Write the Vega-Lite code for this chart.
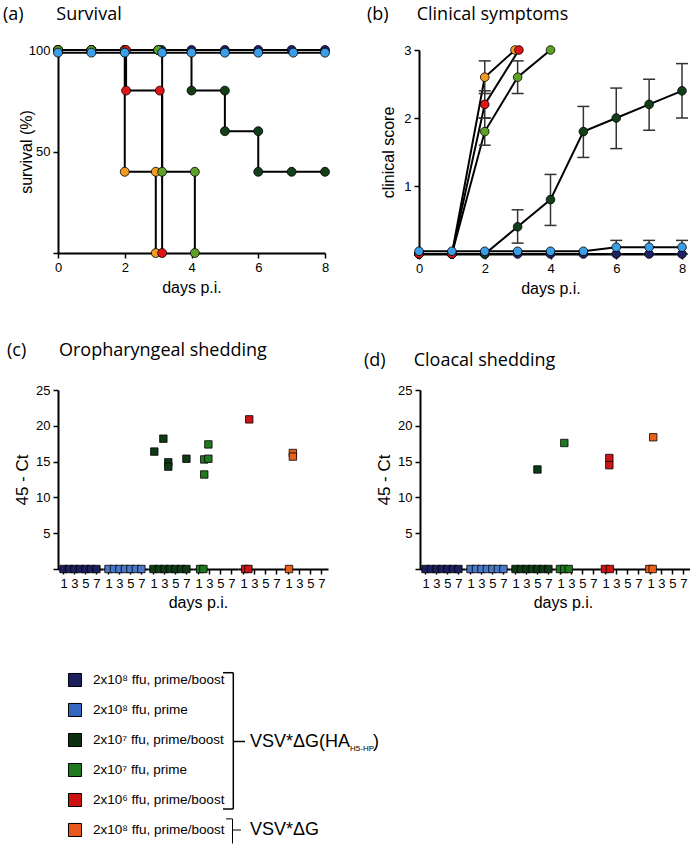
{
  "$schema": "https://vega.github.io/schema/vega-lite/v6.json",
  "padding": {"left": 3, "top": 5, "right": 0, "bottom": 2},
  "autosize": {"type": "pad"},
  "background": "white",
  "config": {
    "view": {"stroke": null},
    "font": "Liberation Sans",
    "axis": {"domainColor": "#000", "domainWidth": 2, "tickColor": "#000", "tickWidth": 1.5, "tickSize": 5, "labelColor": "#000", "labelFontSize": 13, "labelFont": "Liberation Sans", "titleFont": "Liberation Sans", "titleFontSize": 16, "titleFontWeight": "normal", "titleColor": "#000", "grid": false, "labelPadding": 3, "labelFlush": false, "labelOverlap": false, "labelBound": false},
    "title": {"font": "Open Sans", "fontSize": 18, "fontWeight": "normal", "color": "#000", "anchor": "start", "frame": "group"}
  },
  "datasets": {
    "surv": [
      {"group": "g1", "i": 0, "day": 0, "surv": 100}, {"group": "g1", "i": 1, "day": 1, "surv": 100}, {"group": "g1", "i": 2, "day": 2, "surv": 100}, {"group": "g1", "i": 3, "day": 3.1, "surv": 100}, {"group": "g1", "i": 4, "day": 4, "surv": 100}, {"group": "g1", "i": 5, "day": 5, "surv": 100}, {"group": "g1", "i": 6, "day": 6, "surv": 100}, {"group": "g1", "i": 7, "day": 7, "surv": 100}, {"group": "g1", "i": 8, "day": 8, "surv": 100},
      {"group": "g3", "i": 0, "day": 0, "surv": 100}, {"group": "g3", "i": 1, "day": 1, "surv": 100}, {"group": "g3", "i": 2, "day": 2, "surv": 100}, {"group": "g3", "i": 3, "day": 3, "surv": 100}, {"group": "g3", "i": 4, "day": 4, "surv": 80}, {"group": "g3", "i": 5, "day": 5, "surv": 80}, {"group": "g3", "i": 6, "day": 5, "surv": 60}, {"group": "g3", "i": 7, "day": 6, "surv": 60}, {"group": "g3", "i": 8, "day": 6, "surv": 40}, {"group": "g3", "i": 9, "day": 7, "surv": 40}, {"group": "g3", "i": 10, "day": 8, "surv": 40},
      {"group": "g6", "i": 0, "day": 0, "surv": 100}, {"group": "g6", "i": 1, "day": 1, "surv": 100}, {"group": "g6", "i": 2, "day": 2, "surv": 100}, {"group": "g6", "i": 3, "day": 2, "surv": 40}, {"group": "g6", "i": 4, "day": 2.93, "surv": 40}, {"group": "g6", "i": 5, "day": 2.93, "surv": 0},
      {"group": "g5", "i": 0, "day": 0, "surv": 100}, {"group": "g5", "i": 1, "day": 1, "surv": 100}, {"group": "g5", "i": 2, "day": 2.04, "surv": 100}, {"group": "g5", "i": 3, "day": 2.04, "surv": 80}, {"group": "g5", "i": 4, "day": 3.05, "surv": 80}, {"group": "g5", "i": 5, "day": 3.12, "surv": 0},
      {"group": "g4", "i": 0, "day": 0, "surv": 100}, {"group": "g4", "i": 1, "day": 1, "surv": 100}, {"group": "g4", "i": 2, "day": 3, "surv": 100}, {"group": "g4", "i": 3, "day": 3.12, "surv": 40}, {"group": "g4", "i": 4, "day": 4.1, "surv": 40}, {"group": "g4", "i": 5, "day": 4.1, "surv": 0},
      {"group": "g2", "i": 0, "day": 0, "surv": 98.7}, {"group": "g2", "i": 1, "day": 1, "surv": 98.7}, {"group": "g2", "i": 2, "day": 2, "surv": 98.7}, {"group": "g2", "i": 3, "day": 3.12, "surv": 98.7}, {"group": "g2", "i": 4, "day": 4, "surv": 98.7}, {"group": "g2", "i": 5, "day": 5, "surv": 98.7}, {"group": "g2", "i": 6, "day": 6, "surv": 98.7}, {"group": "g2", "i": 7, "day": 7.05, "surv": 98.7}, {"group": "g2", "i": 8, "day": 8, "surv": 98.7}
    ],
    "clin": [
      {"group": "g1", "day": 0, "score": 0}, {"group": "g1", "day": 1, "score": 0}, {"group": "g1", "day": 2, "score": 0}, {"group": "g1", "day": 3, "score": 0}, {"group": "g1", "day": 4, "score": 0}, {"group": "g1", "day": 5, "score": 0}, {"group": "g1", "day": 6, "score": 0}, {"group": "g1", "day": 7, "score": 0}, {"group": "g1", "day": 8, "score": 0},
      {"group": "g3", "day": 0, "score": 0}, {"group": "g3", "day": 1, "score": 0}, {"group": "g3", "day": 2, "score": 0}, {"group": "g3", "day": 3, "score": 0.4, "lo": 0.16, "hi": 0.65}, {"group": "g3", "day": 4, "score": 0.8, "lo": 0.42, "hi": 1.17}, {"group": "g3", "day": 5, "score": 1.8, "lo": 1.42, "hi": 2.17}, {"group": "g3", "day": 6, "score": 2.0, "lo": 1.55, "hi": 2.44}, {"group": "g3", "day": 7, "score": 2.2, "lo": 1.82, "hi": 2.57}, {"group": "g3", "day": 8, "score": 2.4, "lo": 2.0, "hi": 2.8},
      {"group": "g4", "day": 0, "score": 0}, {"group": "g4", "day": 1, "score": 0}, {"group": "g4", "day": 2, "score": 1.8, "lo": 1.6, "hi": 2.0}, {"group": "g4", "day": 3, "score": 2.6, "lo": 2.36, "hi": 2.84}, {"group": "g4", "day": 4, "score": 3.0},
      {"group": "g6", "day": 0, "score": 0}, {"group": "g6", "day": 1, "score": 0}, {"group": "g6", "day": 2, "score": 2.6, "lo": 2.36, "hi": 2.84}, {"group": "g6", "day": 2.92, "score": 3.0},
      {"group": "g5", "day": 0, "score": 0}, {"group": "g5", "day": 1, "score": 0}, {"group": "g5", "day": 2, "score": 2.2, "lo": 2.0, "hi": 2.4}, {"group": "g5", "day": 3.04, "score": 3.0},
      {"group": "g2", "day": 0, "score": 0.04}, {"group": "g2", "day": 1, "score": 0.04}, {"group": "g2", "day": 2, "score": 0.04}, {"group": "g2", "day": 3, "score": 0.04}, {"group": "g2", "day": 4, "score": 0.04}, {"group": "g2", "day": 5, "score": 0.04}, {"group": "g2", "day": 6, "score": 0.1, "lo": 0, "hi": 0.2}, {"group": "g2", "day": 7, "score": 0.1, "lo": 0, "hi": 0.2}, {"group": "g2", "day": 8, "score": 0.1, "lo": 0, "hi": 0.2}
    ],
    "shed": [
      {"panel": "c", "group": "g1", "day": 1, "ct": 0}, {"panel": "c", "group": "g1", "day": 2, "ct": 0}, {"panel": "c", "group": "g1", "day": 3, "ct": 0}, {"panel": "c", "group": "g1", "day": 4, "ct": 0}, {"panel": "c", "group": "g1", "day": 5, "ct": 0}, {"panel": "c", "group": "g1", "day": 6, "ct": 0}, {"panel": "c", "group": "g1", "day": 7, "ct": 0},
      {"panel": "c", "group": "g2", "day": 1, "ct": 0}, {"panel": "c", "group": "g2", "day": 2, "ct": 0}, {"panel": "c", "group": "g2", "day": 3, "ct": 0}, {"panel": "c", "group": "g2", "day": 4, "ct": 0}, {"panel": "c", "group": "g2", "day": 5, "ct": 0}, {"panel": "c", "group": "g2", "day": 6, "ct": 0}, {"panel": "c", "group": "g2", "day": 7, "ct": 0},
      {"panel": "c", "group": "g3", "day": 1, "ct": 0}, {"panel": "c", "group": "g3", "day": 2, "ct": 0}, {"panel": "c", "group": "g3", "day": 3, "ct": 0}, {"panel": "c", "group": "g3", "day": 4, "ct": 0}, {"panel": "c", "group": "g3", "day": 5, "ct": 0}, {"panel": "c", "group": "g3", "day": 6, "ct": 0}, {"panel": "c", "group": "g3", "day": 7, "ct": 0},
      {"panel": "c", "group": "g3", "day": 1.15, "ct": 16.4}, {"panel": "c", "group": "g3", "day": 2.8, "ct": 18.2}, {"panel": "c", "group": "g3", "day": 3.7, "ct": 14.9}, {"panel": "c", "group": "g3", "day": 3.7, "ct": 14.3}, {"panel": "c", "group": "g3", "day": 7.0, "ct": 15.4},
      {"panel": "c", "group": "g4", "day": 1.3, "ct": 0}, {"panel": "c", "group": "g4", "day": 1.9, "ct": 0}, {"panel": "c", "group": "g4", "day": 2.05, "ct": 15.3}, {"panel": "c", "group": "g4", "day": 2.05, "ct": 13.2}, {"panel": "c", "group": "g4", "day": 2.8, "ct": 17.4}, {"panel": "c", "group": "g4", "day": 2.8, "ct": 15.4},
      {"panel": "c", "group": "g5", "day": 1.3, "ct": 0}, {"panel": "c", "group": "g5", "day": 1.9, "ct": 0}, {"panel": "c", "group": "g5", "day": 2.05, "ct": 20.9},
      {"panel": "c", "group": "g6", "day": 1.1, "ct": 0}, {"panel": "c", "group": "g6", "day": 1.8, "ct": 16.2}, {"panel": "c", "group": "g6", "day": 1.8, "ct": 15.7},
      {"panel": "d", "group": "g1", "day": 1, "ct": 0}, {"panel": "d", "group": "g1", "day": 2, "ct": 0}, {"panel": "d", "group": "g1", "day": 3, "ct": 0}, {"panel": "d", "group": "g1", "day": 4, "ct": 0}, {"panel": "d", "group": "g1", "day": 5, "ct": 0}, {"panel": "d", "group": "g1", "day": 6, "ct": 0}, {"panel": "d", "group": "g1", "day": 7, "ct": 0},
      {"panel": "d", "group": "g2", "day": 1, "ct": 0}, {"panel": "d", "group": "g2", "day": 2, "ct": 0}, {"panel": "d", "group": "g2", "day": 3, "ct": 0}, {"panel": "d", "group": "g2", "day": 4, "ct": 0}, {"panel": "d", "group": "g2", "day": 5, "ct": 0}, {"panel": "d", "group": "g2", "day": 6, "ct": 0}, {"panel": "d", "group": "g2", "day": 7, "ct": 0},
      {"panel": "d", "group": "g3", "day": 1, "ct": 0}, {"panel": "d", "group": "g3", "day": 2, "ct": 0}, {"panel": "d", "group": "g3", "day": 3, "ct": 0}, {"panel": "d", "group": "g3", "day": 4, "ct": 0}, {"panel": "d", "group": "g3", "day": 5, "ct": 0}, {"panel": "d", "group": "g3", "day": 6, "ct": 0}, {"panel": "d", "group": "g3", "day": 7, "ct": 0},
      {"panel": "d", "group": "g3", "day": 5.0, "ct": 13.9},
      {"panel": "d", "group": "g4", "day": 0.9, "ct": 0}, {"panel": "d", "group": "g4", "day": 1.7, "ct": 0}, {"panel": "d", "group": "g4", "day": 2.5, "ct": 0}, {"panel": "d", "group": "g4", "day": 1.7, "ct": 17.6},
      {"panel": "d", "group": "g5", "day": 0.9, "ct": 0}, {"panel": "d", "group": "g5", "day": 1.8, "ct": 0}, {"panel": "d", "group": "g5", "day": 1.7, "ct": 15.5}, {"panel": "d", "group": "g5", "day": 1.7, "ct": 14.5},
      {"panel": "d", "group": "g6", "day": 0.8, "ct": 0}, {"panel": "d", "group": "g6", "day": 1.4, "ct": 0}, {"panel": "d", "group": "g6", "day": 1.5, "ct": 18.4}
    ],
    "legend": [
      {"row": 0, "group": "g1", "label": "2x10⁸ ffu, prime/boost"},
      {"row": 1, "group": "g2", "label": "2x10⁸ ffu, prime"},
      {"row": 2, "group": "g3", "label": "2x10⁷ ffu, prime/boost"},
      {"row": 3, "group": "g4", "label": "2x10⁷ ffu, prime"},
      {"row": 4, "group": "g5", "label": "2x10⁶ ffu, prime/boost"},
      {"row": 5, "group": "g6", "label": "2x10⁸ ffu, prime/boost"}
    ]
  },
  "spacing": 55,
  "resolve": {"scale": {"color": "independent"}},
  "vconcat": [
    {
      "spacing": 46,
      "resolve": {"scale": {"color": "independent"}},
      "vconcat": [
        {
          "bounds": "flush",
          "spacing": 94,
          "hconcat": [
            {
              "width": 267, "height": 203,
              "title": {"text": "(a)\u00a0\u00a0\u00a0\u00a0\u00a0\u00a0\u00a0Survival", "dx": -55, "offset": 20},
              "data": {"name": "surv"},
              "encoding": {
                "x": {"field": "day", "type": "quantitative", "scale": {"domain": [0, 8], "nice": false}, "axis": {"values": [0, 2, 4, 6, 8], "title": "days p.i.", "titlePadding": 5}},
                "y": {"field": "surv", "type": "quantitative", "scale": {"domain": [0, 100], "nice": false}, "axis": {"values": [0, 50, 100], "labelExpr": "datum.value == 0 ? '' : datum.label", "title": "survival (%)", "titleX": -24}}
              },
              "layer": [
                {"mark": {"type": "line", "interpolate": "step-after", "color": "black", "strokeWidth": 2}, "encoding": {"detail": {"field": "group"}, "order": {"field": "i"}}},
                {"mark": {"type": "circle", "size": 80, "stroke": "black", "strokeWidth": 0.8, "opacity": 1}, "encoding": {"color": {"field": "group", "type": "nominal", "scale": {"domain": ["g1", "g2", "g3", "g4", "g5", "g6"], "range": ["#1c2366", "#3a9fe6", "#123f18", "#5e9f25", "#e01515", "#f29a1f"]}, "legend": null}}}
              ]
            },
            {
              "width": 263, "height": 204,
              "title": {"text": "(b)\u00a0\u00a0\u00a0\u00a0\u00a0\u00a0Clinical symptoms", "dx": -52, "offset": 20},
              "data": {"name": "clin"},
              "encoding": {
                "x": {"field": "day", "type": "quantitative", "scale": {"domain": [0, 8], "nice": false}, "axis": {"values": [0, 2, 4, 6, 8], "title": "days p.i.", "titlePadding": 5}},
                "y": {"field": "score", "type": "quantitative", "scale": {"domain": [0, 3], "nice": false}, "axis": {"values": [0, 1, 2, 3], "labelExpr": "datum.value == 0 ? '' : datum.label", "title": "clinical score", "titleX": -23}}
              },
              "layer": [
                {"mark": {"type": "line", "color": "black", "strokeWidth": 2}, "encoding": {"detail": {"field": "group"}}},
                {"mark": {"type": "rule", "color": "#333", "strokeWidth": 1.5}, "encoding": {"y": {"field": "lo", "type": "quantitative"}, "y2": {"field": "hi"}}},
                {"mark": {"type": "tick", "orient": "horizontal", "size": 12, "thickness": 1.5, "color": "#333", "opacity": 1}, "encoding": {"y": {"field": "hi", "type": "quantitative"}}},
                {"mark": {"type": "tick", "orient": "horizontal", "size": 12, "thickness": 1.5, "color": "#333", "opacity": 1}, "encoding": {"y": {"field": "lo", "type": "quantitative"}}},
                {"mark": {"type": "circle", "size": 75, "stroke": "black", "strokeWidth": 0.8, "opacity": 1}, "encoding": {"color": {"field": "group", "type": "nominal", "scale": {"domain": ["g1", "g2", "g3", "g4", "g5", "g6"], "range": ["#1c2366", "#3a9fe6", "#123f18", "#5e9f25", "#e01515", "#f29a1f"]}, "legend": null}}}
              ]
            }
          ]
        },
        {
          "bounds": "flush",
          "spacing": 0,
          "data": {"name": "shed"},
          "hconcat": [
            {"width": 45, "height": 179, "title": {"text": "(c)\u00a0\u00a0\u00a0\u00a0\u00a0\u00a0\u00a0Oropharyngeal shedding", "dx": -51, "offset": 24}, "transform": [{"filter": "datum.panel == 'c' && datum.group == 'g1'"}], "mark": {"type": "square", "size": 55, "stroke": "black", "strokeWidth": 0.8, "opacity": 1},
             "encoding": {"x": {"field": "day", "type": "quantitative", "scale": {"domain": [0, 8.2], "nice": false, "zero": false}, "axis": {"values": [1, 3, 5, 7], "title": null}},
              "y": {"field": "ct", "type": "quantitative", "scale": {"domain": [0, 25], "nice": false}, "axis": {"values": [0, 5, 10, 15, 20, 25], "labelExpr": "datum.value == 0 ? '' : datum.label", "title": "45 - Ct", "titleFontSize": 17, "titlePadding": 4}},
              "color": {"field": "group", "type": "nominal", "scale": {"domain": ["g1", "g2", "g3", "g4", "g5", "g6"], "range": ["#1b1f5e", "#4a78c8", "#0e3b14", "#1f7a1f", "#cc1515", "#e8601c"]}, "legend": null}}},
            {"width": 45, "height": 179, "transform": [{"filter": "datum.panel == 'c' && datum.group == 'g2'"}], "mark": {"type": "square", "size": 55, "stroke": "black", "strokeWidth": 0.8, "opacity": 1},
             "encoding": {"x": {"field": "day", "type": "quantitative", "scale": {"domain": [0, 8.2], "nice": false, "zero": false}, "axis": {"values": [1, 3, 5, 7], "title": null}},
              "y": {"field": "ct", "type": "quantitative", "scale": {"domain": [0, 25], "nice": false}, "axis": null},
              "color": {"field": "group", "type": "nominal", "scale": {"domain": ["g1", "g2", "g3", "g4", "g5", "g6"], "range": ["#1b1f5e", "#4a78c8", "#0e3b14", "#1f7a1f", "#cc1515", "#e8601c"]}, "legend": null}}},
            {"width": 45, "height": 179, "transform": [{"filter": "datum.panel == 'c' && datum.group == 'g3'"}], "mark": {"type": "square", "size": 55, "stroke": "black", "strokeWidth": 0.8, "opacity": 1},
             "encoding": {"x": {"field": "day", "type": "quantitative", "scale": {"domain": [0, 8.2], "nice": false, "zero": false}, "axis": {"values": [1, 3, 5, 7], "title": null}},
              "y": {"field": "ct", "type": "quantitative", "scale": {"domain": [0, 25], "nice": false}, "axis": null},
              "color": {"field": "group", "type": "nominal", "scale": {"domain": ["g1", "g2", "g3", "g4", "g5", "g6"], "range": ["#1b1f5e", "#4a78c8", "#0e3b14", "#1f7a1f", "#cc1515", "#e8601c"]}, "legend": null}}},
            {"width": 45, "height": 179, "transform": [{"filter": "datum.panel == 'c' && datum.group == 'g4'"}], "mark": {"type": "square", "size": 55, "stroke": "black", "strokeWidth": 0.8, "opacity": 1},
             "encoding": {"x": {"field": "day", "type": "quantitative", "scale": {"domain": [0, 8.2], "nice": false, "zero": false}, "axis": {"values": [1, 3, 5, 7], "title": "days p.i.", "titleX": 5, "titlePadding": 4}},
              "y": {"field": "ct", "type": "quantitative", "scale": {"domain": [0, 25], "nice": false}, "axis": null},
              "color": {"field": "group", "type": "nominal", "scale": {"domain": ["g1", "g2", "g3", "g4", "g5", "g6"], "range": ["#1b1f5e", "#4a78c8", "#0e3b14", "#1f7a1f", "#cc1515", "#e8601c"]}, "legend": null}}},
            {"width": 45, "height": 179, "transform": [{"filter": "datum.panel == 'c' && datum.group == 'g5'"}], "mark": {"type": "square", "size": 55, "stroke": "black", "strokeWidth": 0.8, "opacity": 1},
             "encoding": {"x": {"field": "day", "type": "quantitative", "scale": {"domain": [0, 8.2], "nice": false, "zero": false}, "axis": {"values": [1, 3, 5, 7], "title": null}},
              "y": {"field": "ct", "type": "quantitative", "scale": {"domain": [0, 25], "nice": false}, "axis": null},
              "color": {"field": "group", "type": "nominal", "scale": {"domain": ["g1", "g2", "g3", "g4", "g5", "g6"], "range": ["#1b1f5e", "#4a78c8", "#0e3b14", "#1f7a1f", "#cc1515", "#e8601c"]}, "legend": null}}},
            {"width": 45, "height": 179, "transform": [{"filter": "datum.panel == 'c' && datum.group == 'g6'"}], "mark": {"type": "square", "size": 55, "stroke": "black", "strokeWidth": 0.8, "opacity": 1},
             "encoding": {"x": {"field": "day", "type": "quantitative", "scale": {"domain": [0, 8.2], "nice": false, "zero": false}, "axis": {"values": [1, 3, 5, 7], "title": null}},
              "y": {"field": "ct", "type": "quantitative", "scale": {"domain": [0, 25], "nice": false}, "axis": null},
              "color": {"field": "group", "type": "nominal", "scale": {"domain": ["g1", "g2", "g3", "g4", "g5", "g6"], "range": ["#1b1f5e", "#4a78c8", "#0e3b14", "#1f7a1f", "#cc1515", "#e8601c"]}, "legend": null}}},
            {"width": 92, "height": 179, "transform": [{"filter": "false"}], "mark": {"type": "point", "opacity": 0},
             "encoding": {"x": {"field": "day", "type": "quantitative", "axis": null}, "y": {"field": "ct", "type": "quantitative", "axis": null}}},
            {"width": 45, "height": 179, "title": {"text": "(d)\u00a0\u00a0\u00a0\u00a0\u00a0\u00a0Cloacal shedding", "dx": -56, "offset": 14}, "transform": [{"filter": "datum.panel == 'd' && datum.group == 'g1'"}], "mark": {"type": "square", "size": 55, "stroke": "black", "strokeWidth": 0.8, "opacity": 1},
             "encoding": {"x": {"field": "day", "type": "quantitative", "scale": {"domain": [0, 8.2], "nice": false, "zero": false}, "axis": {"values": [1, 3, 5, 7], "title": null}},
              "y": {"field": "ct", "type": "quantitative", "scale": {"domain": [0, 25], "nice": false}, "axis": {"values": [0, 5, 10, 15, 20, 25], "labelExpr": "datum.value == 0 ? '' : datum.label", "title": "45 - Ct", "titleFontSize": 17, "titlePadding": 4}},
              "color": {"field": "group", "type": "nominal", "scale": {"domain": ["g1", "g2", "g3", "g4", "g5", "g6"], "range": ["#1b1f5e", "#4a78c8", "#0e3b14", "#1f7a1f", "#cc1515", "#e8601c"]}, "legend": null}}},
            {"width": 45, "height": 179, "transform": [{"filter": "datum.panel == 'd' && datum.group == 'g2'"}], "mark": {"type": "square", "size": 55, "stroke": "black", "strokeWidth": 0.8, "opacity": 1},
             "encoding": {"x": {"field": "day", "type": "quantitative", "scale": {"domain": [0, 8.2], "nice": false, "zero": false}, "axis": {"values": [1, 3, 5, 7], "title": null}},
              "y": {"field": "ct", "type": "quantitative", "scale": {"domain": [0, 25], "nice": false}, "axis": null},
              "color": {"field": "group", "type": "nominal", "scale": {"domain": ["g1", "g2", "g3", "g4", "g5", "g6"], "range": ["#1b1f5e", "#4a78c8", "#0e3b14", "#1f7a1f", "#cc1515", "#e8601c"]}, "legend": null}}},
            {"width": 45, "height": 179, "transform": [{"filter": "datum.panel == 'd' && datum.group == 'g3'"}], "mark": {"type": "square", "size": 55, "stroke": "black", "strokeWidth": 0.8, "opacity": 1},
             "encoding": {"x": {"field": "day", "type": "quantitative", "scale": {"domain": [0, 8.2], "nice": false, "zero": false}, "axis": {"values": [1, 3, 5, 7], "title": null}},
              "y": {"field": "ct", "type": "quantitative", "scale": {"domain": [0, 25], "nice": false}, "axis": null},
              "color": {"field": "group", "type": "nominal", "scale": {"domain": ["g1", "g2", "g3", "g4", "g5", "g6"], "range": ["#1b1f5e", "#4a78c8", "#0e3b14", "#1f7a1f", "#cc1515", "#e8601c"]}, "legend": null}}},
            {"width": 45, "height": 179, "transform": [{"filter": "datum.panel == 'd' && datum.group == 'g4'"}], "mark": {"type": "square", "size": 55, "stroke": "black", "strokeWidth": 0.8, "opacity": 1},
             "encoding": {"x": {"field": "day", "type": "quantitative", "scale": {"domain": [0, 8.2], "nice": false, "zero": false}, "axis": {"values": [1, 3, 5, 7], "title": "days p.i.", "titleX": 8, "titlePadding": 4}},
              "y": {"field": "ct", "type": "quantitative", "scale": {"domain": [0, 25], "nice": false}, "axis": null},
              "color": {"field": "group", "type": "nominal", "scale": {"domain": ["g1", "g2", "g3", "g4", "g5", "g6"], "range": ["#1b1f5e", "#4a78c8", "#0e3b14", "#1f7a1f", "#cc1515", "#e8601c"]}, "legend": null}}},
            {"width": 45, "height": 179, "transform": [{"filter": "datum.panel == 'd' && datum.group == 'g5'"}], "mark": {"type": "square", "size": 55, "stroke": "black", "strokeWidth": 0.8, "opacity": 1},
             "encoding": {"x": {"field": "day", "type": "quantitative", "scale": {"domain": [0, 8.2], "nice": false, "zero": false}, "axis": {"values": [1, 3, 5, 7], "title": null}},
              "y": {"field": "ct", "type": "quantitative", "scale": {"domain": [0, 25], "nice": false}, "axis": null},
              "color": {"field": "group", "type": "nominal", "scale": {"domain": ["g1", "g2", "g3", "g4", "g5", "g6"], "range": ["#1b1f5e", "#4a78c8", "#0e3b14", "#1f7a1f", "#cc1515", "#e8601c"]}, "legend": null}}},
            {"width": 45, "height": 179, "transform": [{"filter": "datum.panel == 'd' && datum.group == 'g6'"}], "mark": {"type": "square", "size": 55, "stroke": "black", "strokeWidth": 0.8, "opacity": 1},
             "encoding": {"x": {"field": "day", "type": "quantitative", "scale": {"domain": [0, 8.2], "nice": false, "zero": false}, "axis": {"values": [1, 3, 5, 7], "title": null}},
              "y": {"field": "ct", "type": "quantitative", "scale": {"domain": [0, 25], "nice": false}, "axis": null},
              "color": {"field": "group", "type": "nominal", "scale": {"domain": ["g1", "g2", "g3", "g4", "g5", "g6"], "range": ["#1b1f5e", "#4a78c8", "#0e3b14", "#1f7a1f", "#cc1515", "#e8601c"]}, "legend": null}}}
          ]
        }
      ]
    },
    {
      "width": 340, "height": 180,
      "layer": [
        {"data": {"name": "legend"}, "mark": {"type": "square", "size": 170, "stroke": "black", "strokeWidth": 1, "opacity": 1},
         "encoding": {"x": {"datum": 0, "type": "quantitative", "scale": {"domain": [-1.7, 32.3], "nice": false, "zero": false}, "axis": null},
          "y": {"field": "row", "type": "quantitative", "scale": {"domain": [-0.5, 5.5], "reverse": true, "nice": false, "zero": false}, "axis": null},
          "color": {"field": "group", "type": "nominal", "scale": {"domain": ["g1", "g2", "g3", "g4", "g5", "g6"], "range": ["#1b1f5e", "#3567c0", "#0b2e10", "#1f7a1f", "#cc1111", "#e8581c"]}, "legend": null}}},
        {"data": {"name": "legend"}, "mark": {"type": "text", "align": "left", "baseline": "middle", "fontSize": 13.5, "font": "Liberation Sans", "color": "black"},
         "encoding": {"x": {"datum": 1.8, "type": "quantitative"}, "y": {"field": "row", "type": "quantitative"}, "text": {"field": "label"}}},
        {"data": {"values": [{"k": 1}]}, "mark": {"type": "rule", "color": "black", "strokeWidth": 1.5}, "encoding": {"x": {"datum": 14.8, "type": "quantitative"}, "x2": {"datum": 15.83}, "y": {"datum": -0.243, "type": "quantitative"}}},
        {"data": {"values": [{"k": 1}]}, "mark": {"type": "rule", "color": "black", "strokeWidth": 1.5}, "encoding": {"x": {"datum": 15.83, "type": "quantitative"}, "y": {"datum": -0.243, "type": "quantitative"}, "y2": {"datum": 4.3}}},
        {"data": {"values": [{"k": 1}]}, "mark": {"type": "rule", "color": "black", "strokeWidth": 1.5}, "encoding": {"x": {"datum": 14.8, "type": "quantitative"}, "x2": {"datum": 15.83}, "y": {"datum": 4.3, "type": "quantitative"}}},
        {"data": {"values": [{"k": 1}]}, "mark": {"type": "rule", "color": "black", "strokeWidth": 1.5}, "encoding": {"x": {"datum": 15.83, "type": "quantitative"}, "x2": {"datum": 17.0}, "y": {"datum": 2.05, "type": "quantitative"}}},
        {"data": {"values": [{"k": 1}]}, "mark": {"type": "rule", "color": "black", "strokeWidth": 1}, "encoding": {"x": {"datum": 15.1, "type": "quantitative"}, "x2": {"datum": 15.75}, "y": {"datum": 4.63, "type": "quantitative"}}},
        {"data": {"values": [{"k": 1}]}, "mark": {"type": "rule", "color": "black", "strokeWidth": 1}, "encoding": {"x": {"datum": 15.75, "type": "quantitative"}, "y": {"datum": 4.63, "type": "quantitative"}, "y2": {"datum": 5.45}}},
        {"data": {"values": [{"k": 1}]}, "mark": {"type": "rule", "color": "black", "strokeWidth": 1}, "encoding": {"x": {"datum": 15.75, "type": "quantitative"}, "x2": {"datum": 16.6}, "y": {"datum": 5.0, "type": "quantitative"}}},
        {"data": {"values": [{"k": 1}]}, "mark": {"type": "text", "align": "left", "baseline": "middle", "fontSize": 18, "font": "Liberation Sans", "color": "black"}, "encoding": {"x": {"datum": 17.5, "type": "quantitative"}, "y": {"datum": 2.05, "type": "quantitative"}, "text": {"value": "VSV*ΔG(HA"}}},
        {"data": {"values": [{"k": 1}]}, "mark": {"type": "text", "align": "left", "baseline": "middle", "fontSize": 8, "font": "Liberation Sans", "color": "black"}, "encoding": {"x": {"datum": 27.5, "type": "quantitative"}, "y": {"datum": 2.3, "type": "quantitative"}, "text": {"value": "H5-HP"}}},
        {"data": {"values": [{"k": 1}]}, "mark": {"type": "text", "align": "left", "baseline": "middle", "fontSize": 18, "font": "Liberation Sans", "color": "black"}, "encoding": {"x": {"datum": 29.8, "type": "quantitative"}, "y": {"datum": 2.05, "type": "quantitative"}, "text": {"value": ")"}}},
        {"data": {"values": [{"k": 1}]}, "mark": {"type": "text", "align": "left", "baseline": "middle", "fontSize": 18, "font": "Liberation Sans", "color": "black"}, "encoding": {"x": {"datum": 17.5, "type": "quantitative"}, "y": {"datum": 5.0, "type": "quantitative"}, "text": {"value": "VSV*ΔG"}}}
      ]
    }
  ]
}
